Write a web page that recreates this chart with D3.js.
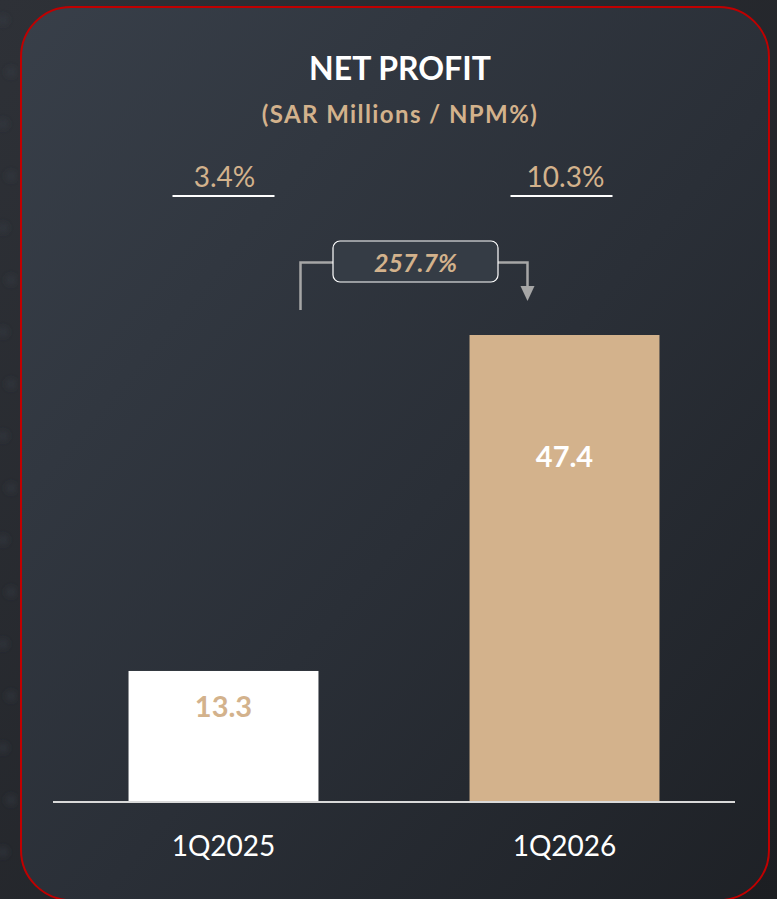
<!DOCTYPE html>
<html>
<head>
<meta charset="utf-8">
<script src="https://cdn.jsdelivr.net/npm/d3@7"></script>
<style>
  html, body { margin: 0; padding: 0; background: #25282e; }
  svg { display: block; }
</style>
</head>
<body>
<script>
// Net profit, SAR millions, with net profit margin per quarter
const categories = ["1Q2025", "1Q2026"];
const netProfit = [13.3, 47.4];
const margins = ["3.4%", "10.3%"];
const growthLabel = "257.7%";

const W = 777, H = 899;
const TAN = "#d3b28c";
const FONT = "Lato, 'Open Sans', sans-serif";

const svg = d3.select("body").append("svg")
  .attr("width", W).attr("height", H);

const defs = svg.append("defs");
const bgGrad = defs.append("linearGradient").attr("id", "bg")
  .attr("x1", 0).attr("y1", 0).attr("x2", 1).attr("y2", 1);
bgGrad.append("stop").attr("offset", 0).attr("stop-color", "#2e3137");
bgGrad.append("stop").attr("offset", 1).attr("stop-color", "#1c1e22");

const panelGrad = defs.append("linearGradient").attr("id", "panel")
  .attr("x1", 0).attr("y1", 0).attr("x2", 1).attr("y2", 1);
panelGrad.append("stop").attr("offset", 0).attr("stop-color", "#383f49");
panelGrad.append("stop").attr("offset", 0.55).attr("stop-color", "#2a2f37");
panelGrad.append("stop").attr("offset", 1).attr("stop-color", "#1e2126");

const blur = defs.append("filter").attr("id", "soft");
blur.append("feGaussianBlur").attr("stdDeviation", 3);

// page backdrop
svg.append("rect").attr("width", W).attr("height", H).attr("fill", "url(#bg)");

// faint dots along the left edge of the backdrop
const dotRows = d3.range(20, H, 52);
svg.append("g").attr("filter", "url(#soft)")
  .selectAll("circle").data(dotRows).join("circle")
  .attr("cx", (d, i) => i % 2 ? 11 : 3)
  .attr("cy", d => d)
  .attr("r", 5)
  .attr("fill", "#3a3e45")
  .attr("opacity", 0.5);

// rounded card with red outline, its lower edge running off the page
const card = { x: 21, y: 7, w: 748, h: 893, r: 50 };
svg.append("rect")
  .attr("x", card.x).attr("y", card.y)
  .attr("width", card.w).attr("height", card.h)
  .attr("rx", card.r).attr("ry", card.r)
  .attr("fill", "url(#panel)")
  .attr("stroke", "#c00000").attr("stroke-width", 2);

// titles
svg.append("text")
  .attr("x", 400).attr("y", 80)
  .attr("text-anchor", "middle")
  .attr("font-family", FONT)
  .attr("font-weight", 700).attr("font-size", 32)
  .attr("fill", "#ffffff")
  .text("NET PROFIT");

svg.append("text")
  .attr("x", 400).attr("y", 123)
  .attr("text-anchor", "middle")
  .attr("font-family", FONT)
  .attr("font-weight", 700).attr("font-size", 24)
  .attr("letter-spacing", 1.4)
  .attr("fill", TAN)
  .text("(SAR Millions / NPM%)");

// scales
const x = d3.scaleBand()
  .domain(categories)
  .range([53, 735])
  .paddingInner(0.443)
  .paddingOuter(0.2215);

const baseY = 802;
const y = d3.scaleLinear()
  .domain([0, 47.4])
  .range([baseY, 335]);

const barFill = ["#ffffff", TAN];
const labelFill = [TAN, "#ffffff"];

// bars
svg.append("g").selectAll("rect")
  .data(categories).join("rect")
  .attr("x", d => x(d))
  .attr("y", (d, i) => y(netProfit[i]))
  .attr("width", x.bandwidth())
  .attr("height", (d, i) => baseY - y(netProfit[i]))
  .attr("fill", (d, i) => barFill[i]);

// value labels inside the bars
svg.append("g").selectAll("text")
  .data(categories).join("text")
  .attr("x", d => x(d) + x.bandwidth() / 2)
  .attr("y", (d, i) => y(netProfit[i]) + (i === 0 ? 46 : 132))
  .attr("text-anchor", "middle")
  .attr("font-family", FONT)
  .attr("font-weight", 700).attr("font-size", 29)
  .attr("fill", (d, i) => labelFill[i])
  .text((d, i) => netProfit[i].toFixed(1));

// category axis
const axis = svg.append("g")
  .attr("transform", `translate(0,${baseY})`)
  .call(d3.axisBottom(x).tickSize(0).tickPadding(34));
axis.select(".domain")
  .attr("d", "M53,0H735")
  .attr("stroke", "#d9d9d9").attr("stroke-width", 2);
axis.selectAll(".tick text")
  .attr("font-family", FONT)
  .attr("font-size", 28)
  .attr("fill", "#ffffff");

// net profit margin labels with underline
const mg = svg.append("g").selectAll("g")
  .data(categories).join("g")
  .attr("transform", d => `translate(${x(d) + x.bandwidth() / 2},0)`);
mg.append("text")
  .attr("x", 1).attr("y", 187)
  .attr("text-anchor", "middle")
  .attr("font-family", FONT)
  .attr("font-size", 28)
  .attr("fill", TAN)
  .text((d, i) => margins[i]);
mg.append("line")
  .attr("x1", (d, i) => i === 0 ? -51 : -54)
  .attr("x2", (d, i) => i === 0 ? 51 : 48)
  .attr("y1", 196).attr("y2", 196)
  .attr("stroke", "#ffffff").attr("stroke-width", 2);

// growth connector between the two bars
const c0 = x(categories[0]) + x.bandwidth() / 2;
const c1 = x(categories[1]) + x.bandwidth() / 2;
const box = { x: 333, y: 241, w: 165, h: 41 };
const midY = box.y + box.h / 2 + 1;
const lx = c0 + 77, rx = c1 - 37;

svg.append("path")
  .attr("d", `M${lx},310V${midY}H${box.x}`)
  .attr("fill", "none").attr("stroke", "#a6a6a6").attr("stroke-width", 2.5);
svg.append("path")
  .attr("d", `M${box.x + box.w},${midY}H${rx}V${288}`)
  .attr("fill", "none").attr("stroke", "#a6a6a6").attr("stroke-width", 2.5);
svg.append("path")
  .attr("d", `M${rx - 7},286L${rx + 7},286L${rx},301Z`)
  .attr("fill", "#a6a6a6");

svg.append("rect")
  .attr("x", box.x).attr("y", box.y)
  .attr("width", box.w).attr("height", box.h)
  .attr("rx", 7).attr("ry", 7)
  .attr("fill", "#353c45")
  .attr("stroke", "#ffffff").attr("stroke-width", 1.2);
svg.append("text")
  .attr("x", box.x + box.w / 2).attr("y", 272)
  .attr("text-anchor", "middle")
  .attr("font-family", FONT)
  .attr("font-weight", 700).attr("font-style", "italic")
  .attr("font-size", 25)
  .attr("fill", TAN)
  .text(growthLabel);
</script>
</body>
</html>
